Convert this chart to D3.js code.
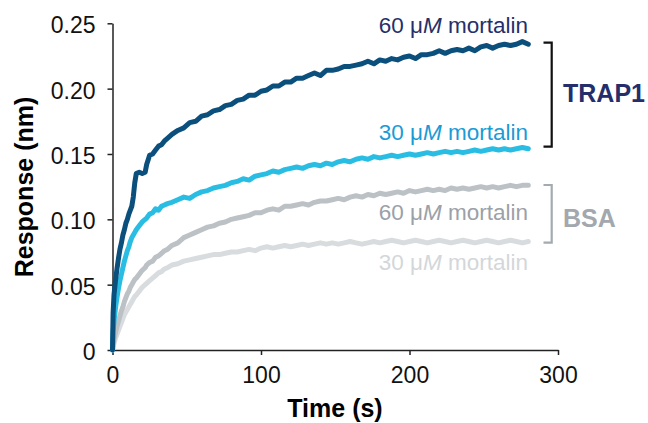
<!DOCTYPE html>
<html>
<head>
<meta charset="utf-8">
<script src="https://cdn.jsdelivr.net/npm/d3@7"></script>
<style>
  body { margin: 0; background: #fff; }
  svg { font-family: "Liberation Sans", Arial, sans-serif; }
  .axis path, .axis line { stroke: #222; stroke-width: 1.5; }
  .axis text { font-size: 23px; fill: #111; }
  .curve { fill: none; stroke-width: 5; stroke-linejoin: round; stroke-linecap: round; }
</style>
</head>
<body>
<div id="chart"></div>
<script>

// time points (s), shared by all four traces
var time_s = [0, 0.4, 1, 2, 3, 4, 5, 6, 7, 8, 9, 10, 11, 12, 13, 14, 15, 16,
  18, 20, 22, 23, 25, 27, 29, 31, 33, 35, 37,
  40, 44, 48, 52, 56, 60, 64, 68, 72, 76, 80, 84, 88, 92, 96, 100,
  104, 108, 112, 116, 120, 124, 128, 132, 136, 140, 144, 148, 152, 156, 160,
  164, 168, 172, 176, 180, 184, 188, 192, 196, 200, 204, 208, 212, 216, 220,
  224, 228, 232, 236, 240, 244, 248, 252, 256, 260, 264, 268, 272, 276, 280]

// response (nm), TRAP1 + 60 uM mortalin
var trap1_60 = [0, 0.028, 0.042, 0.053, 0.062, 0.070, 0.077, 0.082, 0.088, 0.092, 0.097, 0.100, 0.104, 0.107, 0.110, 0.117, 0.128, 0.135,
  0.136, 0.135, 0.136, 0.142, 0.149, 0.150, 0.153, 0.156, 0.157, 0.160, 0.162,
  0.165, 0.168, 0.170, 0.174, 0.175, 0.179, 0.180, 0.183, 0.184, 0.187, 0.188, 0.191, 0.192, 0.195, 0.195, 0.198,
  0.199, 0.202, 0.202, 0.205, 0.205, 0.208, 0.208, 0.210, 0.212, 0.210, 0.214, 0.214, 0.215, 0.217, 0.217,
  0.218, 0.219, 0.221, 0.219, 0.222, 0.221, 0.223, 0.222, 0.224, 0.225, 0.223, 0.226, 0.226, 0.227, 0.229,
  0.227, 0.229, 0.230, 0.229, 0.231, 0.229, 0.232, 0.233, 0.231, 0.233, 0.234, 0.233, 0.234, 0.236, 0.234]

// TRAP1 + 30 uM mortalin
var trap1_30 = [0, 0.014, 0.022, 0.032, 0.040, 0.047, 0.053, 0.058, 0.063, 0.068, 0.072, 0.076, 0.079, 0.083, 0.086, 0.088, 0.090, 0.092,
  0.095, 0.098, 0.100, 0.101, 0.104, 0.105, 0.108, 0.107, 0.110, 0.111, 0.112,
  0.113, 0.115, 0.117, 0.116, 0.119, 0.121, 0.122, 0.124, 0.125, 0.126, 0.128, 0.129, 0.131, 0.130, 0.133, 0.134,
  0.135, 0.137, 0.136, 0.138, 0.139, 0.140, 0.139, 0.141, 0.142, 0.141, 0.143, 0.142, 0.144, 0.145, 0.144,
  0.146, 0.147, 0.146, 0.148, 0.147, 0.148, 0.149, 0.148, 0.149, 0.150, 0.149, 0.150, 0.151, 0.150, 0.151,
  0.152, 0.151, 0.152, 0.151, 0.152, 0.153, 0.152, 0.153, 0.154, 0.153, 0.154, 0.153, 0.154, 0.155, 0.154]

// BSA + 60 uM mortalin
var bsa_60 = [0, 0.004, 0.008, 0.013, 0.018, 0.022, 0.026, 0.030, 0.033, 0.037, 0.040, 0.043, 0.045, 0.048, 0.050, 0.052, 0.054, 0.055,
  0.058, 0.061, 0.063, 0.065, 0.067, 0.068, 0.071, 0.072, 0.074, 0.076, 0.077,
  0.080, 0.082, 0.086, 0.088, 0.090, 0.092, 0.094, 0.095, 0.097, 0.098, 0.100, 0.101, 0.102, 0.103, 0.105, 0.105,
  0.107, 0.108, 0.107, 0.110, 0.110, 0.111, 0.112, 0.111, 0.113, 0.114, 0.114, 0.115, 0.116, 0.115, 0.117,
  0.118, 0.117, 0.119, 0.118, 0.120, 0.119, 0.120, 0.121, 0.120, 0.122, 0.121, 0.122, 0.123, 0.122, 0.123,
  0.122, 0.124, 0.123, 0.124, 0.123, 0.124, 0.125, 0.124, 0.125, 0.124, 0.125, 0.126, 0.125, 0.126, 0.126]

// BSA + 30 uM mortalin
var bsa_30 = [0, 0.002, 0.005, 0.009, 0.012, 0.015, 0.018, 0.021, 0.024, 0.027, 0.029, 0.031, 0.033, 0.035, 0.037, 0.039, 0.041, 0.042,
  0.045, 0.048, 0.050, 0.051, 0.053, 0.055, 0.057, 0.059, 0.060, 0.062, 0.063,
  0.065, 0.066, 0.068, 0.069, 0.070, 0.071, 0.072, 0.073, 0.073, 0.074, 0.075, 0.075, 0.076, 0.077, 0.076, 0.078,
  0.079, 0.078, 0.079, 0.080, 0.079, 0.080, 0.081, 0.080, 0.081, 0.082, 0.081, 0.082, 0.081, 0.082, 0.083,
  0.082, 0.081, 0.082, 0.083, 0.082, 0.083, 0.084, 0.083, 0.082, 0.083, 0.084, 0.083, 0.082, 0.083, 0.084,
  0.083, 0.082, 0.083, 0.084, 0.083, 0.082, 0.083, 0.084, 0.083, 0.082, 0.083, 0.084, 0.083, 0.082, 0.083]

// axis ticks
var x_ticks = [0, 100, 200, 300]
var y_ticks = [0, 0.05, 0.10, 0.15, 0.20, 0.25]

// traces, drawn back to front
var traces = [
  {name: "bsa_30", values: bsa_30, color: "#d8dcdf"},
  {name: "bsa_60", values: bsa_60, color: "#bcc1c6"},
  {name: "trap1_30", values: trap1_30, color: "#2abde3"},
  {name: "trap1_60", values: trap1_60, color: "#0b4f7c"}
]


function draw_chart(){

  var svg = d3.select("#chart").append("svg")
    .attr("width", 648)
    .attr("height", 423)

  var x = d3.scaleLinear().domain([0, 300]).range([112.5, 558])
  var y = d3.scaleLinear().domain([0, 0.25]).range([350, 23.3])

  // x axis
  svg.append("g")
    .attr("class", "axis")
    .attr("transform", "translate(0," + y(0) + ")")
    .call(d3.axisBottom(x).tickValues(x_ticks).tickSize(5).tickSizeOuter(0).tickPadding(12))

  // y axis
  svg.append("g")
    .attr("class", "axis")
    .attr("transform", "translate(" + x(0) + ",0)")
    .call(d3.axisLeft(y).tickValues(y_ticks).tickSize(5).tickSizeOuter(0).tickPadding(12)
      .tickFormat(function(d){ return d === 0 ? "0" : d3.format(".2f")(d) }))
    .selectAll("text")
      .attr("dy", "0.42em")

  // axis titles
  svg.append("text")
    .attr("x", 335)
    .attr("y", 417)
    .attr("text-anchor", "middle")
    .style("font-size", "25px")
    .style("font-weight", "bold")
    .text("Time (s)")

  svg.append("text")
    .attr("transform", "translate(33,187) rotate(-90)")
    .attr("text-anchor", "middle")
    .style("font-size", "25px")
    .style("font-weight", "bold")
    .text("Response (nm)")

  // curves
  var line = d3.line()
    .x(function(d){ return x(d[0]) })
    .y(function(d){ return y(d[1]) })

  svg.selectAll(".curve")
    .data(traces)
    .enter().append("path")
      .attr("class", "curve")
      .attr("stroke", function(d){ return d.color })
      .attr("d", function(d){
        return line(time_s.map(function(t, i){ return [t, d.values[i]] }))
      })

  // concentration labels
  var labels = [
    {conc: "60", y: 33, color: "#262f6b"},
    {conc: "30", y: 140, color: "#1b9bd5"},
    {conc: "60", y: 220, color: "#9ba1a7"},
    {conc: "30", y: 270, color: "#d3d7da"}
  ]

  var lab = svg.selectAll(".conc")
    .data(labels)
    .enter().append("text")
      .attr("class", "conc")
      .attr("x", 528)
      .attr("y", function(d){ return d.y })
      .attr("text-anchor", "end")
      .style("font-size", "22.5px")
      .style("fill", function(d){ return d.color })

  lab.append("tspan").text(function(d){ return d.conc + " \u03bc" })
  lab.append("tspan").style("font-style", "italic").text("M")
  lab.append("tspan").text(" mortalin")

  // brackets
  draw_bracket(svg, 42.7, 146.7, "#111", "TRAP1", "#252e6a", 101.5)
  draw_bracket(svg, 185, 242.7, "#a4aab0", "BSA", "#a2a8ae", 226.5)
}


// bracket with group name next to it
function draw_bracket(svg, y0, y1, color, name, text_color, text_y){

  svg.append("path")
    .attr("d", "M543.5," + y0 + "H551.7V" + y1 + "H543.5")
    .attr("fill", "none")
    .attr("stroke", color)
    .attr("stroke-width", 2.2)

  svg.append("text")
    .attr("x", 563)
    .attr("y", text_y)
    .style("font-size", "25px")
    .style("font-weight", "bold")
    .style("fill", text_color)
    .text(name)
}

draw_chart()

</script>
</body>
</html>
